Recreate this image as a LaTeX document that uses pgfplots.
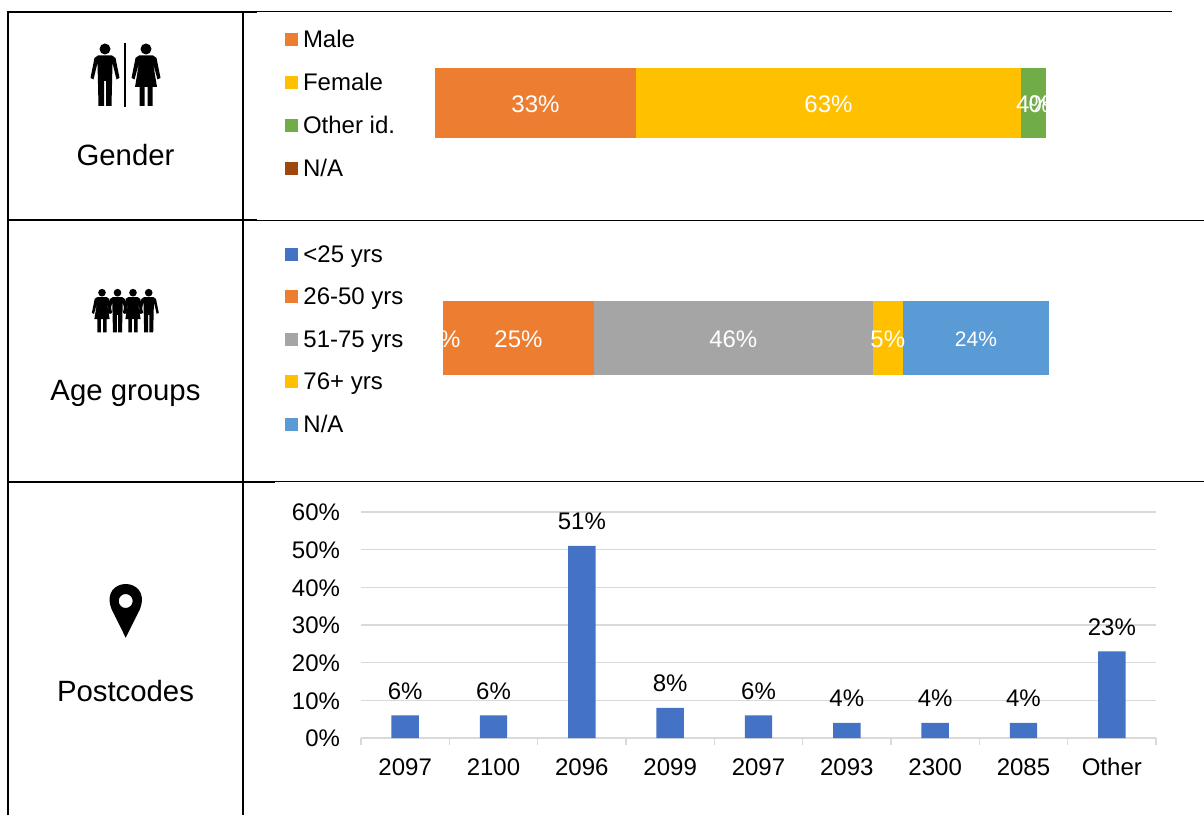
\documentclass[border=0pt]{standalone}
\usepackage{pgfplots}
\pgfplotsset{compat=1.18}
\usepackage{fontspec}
\setmainfont{Liberation Sans}
\definecolor{cOr}{HTML}{ED7D31}
\definecolor{cYe}{HTML}{FFC000}
\definecolor{cGr}{HTML}{70AD47}
\definecolor{cBr}{HTML}{9E480E}
\definecolor{cBl}{HTML}{4472C4}
\definecolor{cGy}{HTML}{A5A5A5}
\definecolor{cLb}{HTML}{5B9BD5}
\definecolor{cGrid}{HTML}{D9D9D9}
\newcommand{\man}[3]{\begin{scope}[shift={(#1,#2)},x=#3*0.75pt,y=-#3*0.75pt]
 \fill (0,0) circle[radius=5.5];
 \fill[line join=round] (-7,6.5)--(7,6.5)--(10.5,9)--(14.5,29)--(11.5,30.5)--(7.5,14)--(6.5,57)--(1,57)--(1,32)--(-1,32)--(-1,57)--(-6.5,57)--(-7.5,14)--(-11.5,30.5)--(-14.5,29)--(-10.5,9)--cycle;
\end{scope}}
\newcommand{\woman}[3]{\begin{scope}[shift={(#1,#2)},x=#3*0.75pt,y=-#3*0.75pt]
 \fill (0,0) circle[radius=5.5];
 \fill[line join=round] (-7,6.5)--(7,6.5)--(10.5,9)--(14.5,29)--(11.5,30.5)--(7,14)--(11,38)--(6.5,38)--(6.5,57)--(1.5,57)--(1.5,38)--(-1.5,38)--(-1.5,57)--(-6.5,57)--(-6.5,38)--(-11,38)--(-7,14)--(-11.5,30.5)--(-14.5,29)--(-10.5,9)--cycle;
\end{scope}}
\pgfplotsset{
 stackbar/.style={scale only axis, hide axis, xmin=0, xmax=100, ymin=-1, ymax=1,
   enlargelimits=false, clip=false, xbar stacked, ytick=\empty,
   legend image code/.code={\fill[##1,draw=none] (0pt,-3.4pt) rectangle (9.75pt,6.35pt);},
   legend cell align=left,
   legend style={draw=none, fill=none, inner sep=0pt, outer sep=0pt, anchor=north west,
     row sep=15.25pt, column sep=3.75pt,
     nodes={inner sep=0pt, outer sep=0pt, text height=13pt, text depth=4pt, font=\fontsize{18}{21}\selectfont}}},
 barlabels/.style={scale only axis, hide axis, xmin=0, xmax=100, ymin=-1, ymax=1,
   enlargelimits=false, clip=false},
 lab/.style={only marks, mark=none, point meta=explicit symbolic, nodes near coords,
   every node near coord/.style={anchor=center, inner sep=0pt, text=white, font=\fontsize{18}{21}\selectfont, yshift=-1pt}},
}
\begin{document}
\begin{tikzpicture}
\useasboundingbox (0,0) rectangle (903pt,611.25pt);
% table rules and icons, in reference pixels
\begin{scope}[x=0.75pt,y=-0.75pt,yshift=611.25pt]
 \draw[line width=1.5pt] (8,815)--(8,12)--(257,12);
 \draw[line width=1.5pt] (243,12)--(243,815);
 \draw[line width=1.5pt] (8,220.5)--(257,220.5);
 \draw[line width=1.5pt] (8,481.7)--(275,481.7);
 \draw[line width=0.75pt] (257,11.7)--(1172,11.7);
 \draw[line width=0.75pt] (257,220.2)--(1204,220.2);
 \draw[line width=0.75pt] (275,481.2)--(1204,481.2);
 \man{105}{49}{1}
 \draw[line width=1.9pt] (125,43)--(125,107);
 \woman{146}{49}{1}
 \woman{102}{292.7}{0.695}
 \man{117.5}{292.7}{0.695}
 \woman{133}{292.7}{0.695}
 \man{148.7}{292.7}{0.695}
 \fill[even odd rule] (125.7,637.7) -- (111.5,609) .. controls (105,592) and (116,584) .. (125.7,584)
   .. controls (135.5,584) and (146.5,592) .. (140,609) -- cycle
   (125.7,601) circle[radius=7];
 \node[font=\fontsize{22}{25}\selectfont] at (125.5,155) {Gender};
 \node[font=\fontsize{22}{25}\selectfont] at (125.5,393) {Age groups};
 \node[font=\fontsize{22}{25}\selectfont] at (125.5,691) {Postcodes};
\end{scope}
% Gender
\begin{axis}[stackbar, at={(435*0.75pt,677*0.75pt)}, anchor=south west,
  width=458.25pt, height=52.5pt, bar width=52.5pt,
  legend style={at={(axis description cs:-0.2455,1.54)}}]
 \addplot[fill=cOr,draw=none] coordinates {(32.9,0)}; \addlegendentry{Male}
 \addplot[fill=cYe,draw=none] coordinates {(63.0,0)}; \addlegendentry{Female}
 \addplot[fill=cGr,draw=none] coordinates {(4.1,0)}; \addlegendentry{Other id.}
 \addplot[fill=cBr,draw=none] coordinates {(0,0)}; \addlegendentry{N/A}
\end{axis}
\begin{axis}[barlabels, at={(435*0.75pt,677*0.75pt)}, anchor=south west, width=458.25pt, height=52.5pt]
 \addplot[lab] coordinates {(16.45,0)[33\%] (64.4,0)[63\%] (97.95,0)[4\%] (100,0)[0\%]};
\end{axis}
% Age groups
\begin{axis}[stackbar, at={(443*0.75pt,440*0.75pt)}, anchor=south west,
  width=454.5pt, height=55.5pt, bar width=55.5pt,
  legend style={at={(axis description cs:-0.26,1.757)}, row sep=14.9pt}]
 \addplot[fill=cBl,draw=none] coordinates {(0,0)}; \addlegendentry{<25 yrs}
 \addplot[fill=cOr,draw=none] coordinates {(24.9,0)}; \addlegendentry{26-50 yrs}
 \addplot[fill=cGy,draw=none] coordinates {(46.0,0)}; \addlegendentry{51-75 yrs}
 \addplot[fill=cYe,draw=none] coordinates {(5.0,0)}; \addlegendentry{76+ yrs}
 \addplot[fill=cLb,draw=none] coordinates {(24.1,0)}; \addlegendentry{N/A}
\end{axis}
\begin{axis}[barlabels, at={(443*0.75pt,440*0.75pt)}, anchor=south west, width=454.5pt, height=55.5pt]
 \addplot[lab] coordinates {(0,0)[0\%] (12.45,0)[25\%] (47.9,0)[46\%] (73.4,0)[5\%]};
 \addplot[lab, every node near coord/.append style={font=\fontsize{15.75}{18}\selectfont}] coordinates {(87.95,0)[24\%]};
\end{axis}
% Postcodes
\begin{axis}[scale only axis, at={(361*0.75pt,77*0.75pt)}, anchor=south west,
  width=596.25pt, height=169.5pt, xmin=0, xmax=9, ymin=0, ymax=60,
  enlargelimits=false, clip=false,
  ybar, bar width=20.6pt,
  /pgf/number format/assume math mode=true,
  axis y line*=left, axis x line*=bottom,
  y axis line style={draw=none},
  x axis line style={draw=cGrid, line width=1.2pt, -},
  xtick={0.5,1.5,2.5,3.5,4.5,5.5,6.5,7.5,8.5},
  xticklabels={2097,2100,2096,2099,2097,2093,2300,2085,Other},
  minor xtick={0,1,2,3,4,5,6,7,8,9},
  ytick={0,10,20,30,40,50,60},
  yticklabels={0\%,10\%,20\%,30\%,40\%,50\%,60\%},
  major tick length=0pt, minor tick length=5.5pt, tick align=outside,
  minor tick style={draw=cGrid, line width=1.2pt},
  ymajorgrids, major grid style={draw=cGrid, line width=1.2pt},
  tick label style={font=\fontsize{18}{21}\selectfont},
  x tick label style={yshift=-11.4pt, text height=13pt, text depth=0pt}, y tick label style={xshift=-12.25pt, yshift=-0.5pt},
  nodes near coords={\pgfmathprintnumber{\pgfplotspointmeta}\%},
  every node near coord/.append style={anchor=base, inner sep=0pt, yshift=12pt, font=\fontsize{18}{21}\selectfont}]
 \addplot[fill=cBl,draw=none] coordinates {(0.5,6) (1.5,6) (2.5,51) (3.5,8) (4.5,6) (5.5,4) (6.5,4) (7.5,4) (8.5,23)};
\end{axis}
\end{tikzpicture}
\end{document}
